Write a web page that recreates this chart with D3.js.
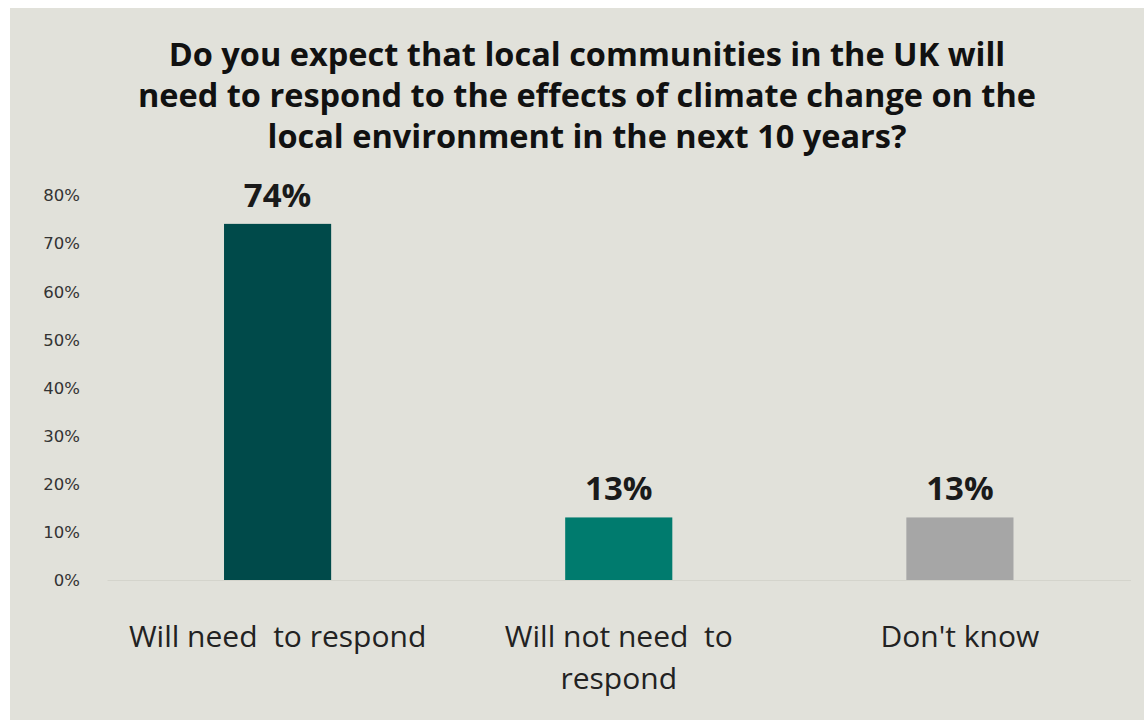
<!DOCTYPE html>
<html><head><meta charset="utf-8">
<script src="https://cdn.jsdelivr.net/npm/d3@7"></script>
<style>
html,body{margin:0;padding:0;background:#fff;}
svg{display:block;}
</style></head>
<body>
<svg id="chart" width="1144" height="720"></svg>
<script>
const categories = ["Will need  to respond", "Will not need to respond", "Don't know"];
const categoryLines = [["Will need  to respond"], ["Will not need  to", "respond"], ["Don't know"]];
const values = [74, 13, 13];
const valueLabels = ["74%", "13%", "13%"];
const barColors = ["#004a4a", "#007b6e", "#a6a6a6"];
const yTicks = [0, 10, 20, 30, 40, 50, 60, 70, 80];
const titleLines = ["Do you expect that local communities in the UK will",
  "need to respond to the effects of climate change on the",
  "local environment in the next 10 years?"];

const svg = d3.select("#chart");
svg.append("rect").attr("x", 10).attr("y", 8).attr("width", 1134).attr("height", 712).attr("fill", "#e1e1da");

const x = d3.scaleBand().domain(categories).range([107, 1130.5]).paddingInner(0.686).paddingOuter(0.343);
const y = d3.scaleLinear().domain([0, 80]).range([580, 195]);

// title
svg.append("g").selectAll("text").data(titleLines).join("text")
  .attr("x", 587).attr("y", (d, i) => 66 + i * 41)
  .attr("text-anchor", "middle")
  .attr("font-family", "'Open Sans', sans-serif")
  .attr("font-weight", "bold").attr("font-size", 32.5).attr("fill", "#111")
  .text(d => d);

// y axis
const yAxis = svg.append("g").attr("transform", "translate(80,0)")
  .call(d3.axisLeft(y).tickValues(yTicks).tickSize(0).tickPadding(0).tickFormat(d => d + "%"));
yAxis.select(".domain").remove();
yAxis.selectAll("text").attr("font-family", "'DejaVu Sans', Verdana, sans-serif")
  .attr("font-size", 16.5).attr("fill", "#333").attr("dy", "0.35em");

// baseline
const xAxis = svg.append("g").attr("transform", "translate(0,580)")
  .call(d3.axisBottom(x).tickSize(0).tickFormat(""));
xAxis.select(".domain").attr("stroke", "#d4d4cc").attr("stroke-width", 1);

// bars
svg.append("g").selectAll("rect").data(values).join("rect")
  .attr("x", (d, i) => x(categories[i]))
  .attr("width", x.bandwidth())
  .attr("y", d => y(d))
  .attr("height", d => y(0) - y(d))
  .attr("fill", (d, i) => barColors[i]);

// value labels
svg.append("g").selectAll("text").data(values).join("text")
  .attr("x", (d, i) => x(categories[i]) + x.bandwidth() / 2)
  .attr("y", d => y(d) - 17)
  .attr("text-anchor", "middle")
  .attr("font-family", "'Open Sans', sans-serif")
  .attr("font-weight", "bold").attr("font-size", 33).attr("fill", "#1a1a1a")
  .text((d, i) => valueLabels[i]);

// category labels
const cl = svg.append("g").selectAll("text").data(categoryLines).join("text")
  .attr("x", (d, i) => x(categories[i]) + x.bandwidth() / 2)
  .attr("y", 647)
  .attr("text-anchor", "middle")
  .style("white-space", "pre")
  .attr("font-family", "'Open Sans', sans-serif")
  .attr("font-size", 30).attr("fill", "#222");
cl.each(function(lines, i) {
  d3.select(this).selectAll("tspan").data(lines).join("tspan")
    .attr("x", x(categories[i]) + x.bandwidth() / 2)
    .attr("dy", (d, j) => j === 0 ? 0 : 42)
    .text(d => d);
});
</script>
</body></html>
